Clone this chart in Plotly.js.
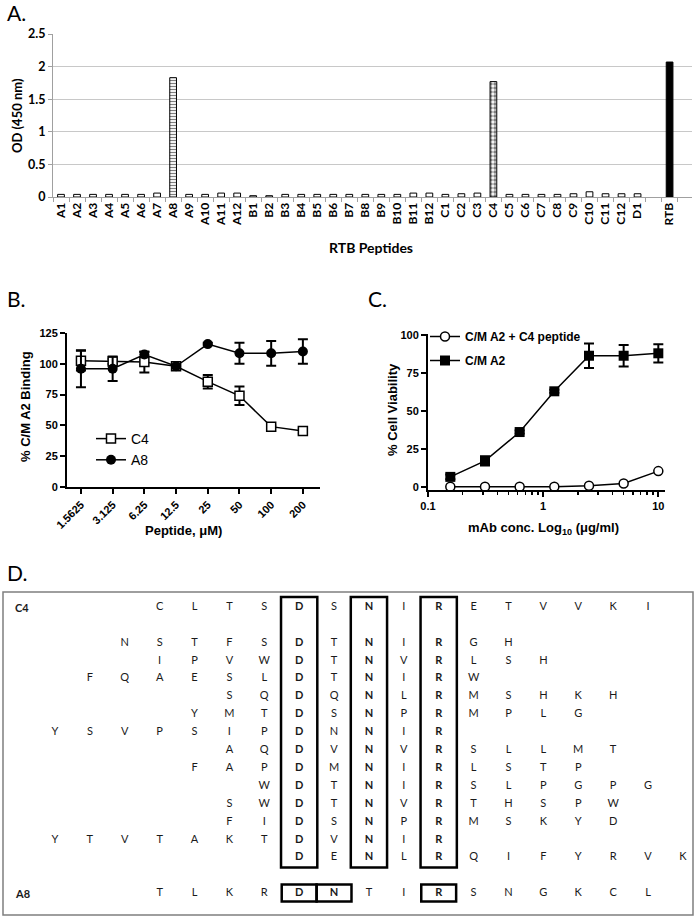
<!DOCTYPE html>
<html><head><meta charset="utf-8">
<script src="https://cdn.plot.ly/plotly-3.0.1.min.js"></script>
<style>html,body{margin:0;padding:0;background:#fff}#chart{width:697px;height:920px}</style>
</head><body><div id="chart"></div>
<script>
// ---------- Panel A data ----------
const peptideLabels = ["A1","A2","A3","A4","A5","A6","A7","A8","A9","A10","A11","A12",
  "B1","B2","B3","B4","B5","B6","B7","B8","B9","B10","B11","B12",
  "C1","C2","C3","C4","C5","C6","C7","C8","C9","C10","C11","C12","D1"," ","RTB"];
const odValues = [0.04,0.04,0.04,0.04,0.04,0.04,0.06,1.83,0.04,0.04,0.06,0.06,
  0.02,0.02,0.04,0.04,0.04,0.04,0.04,0.04,0.04,0.04,0.06,0.06,
  0.04,0.05,0.06,1.77,0.04,0.04,0.04,0.04,0.05,0.08,0.05,0.05,0.05,null,2.07];

// ---------- Panel B data ----------
const peptideConc = ["1.5625","3.125","6.25","12.5","25","50","100","200"];
const c4Binding = [102.5,101.8,101.5,98,85.5,74,49,45.5];
const c4BindingErr = [8,2,8.5,1,5.5,7.5,1,2];
const a8Binding = [96,96,107.5,98,116,108.5,108.5,110];
const a8BindingErr = [15,10,2,1,1,8.5,10,10];

// ---------- Panel C data ----------
const mAbConc = [0.15625,0.3125,0.625,1.25,2.5,5,10];
const viabilityCMA2C4 = [0,0,0,0,0.7,2.2,10.3];
const viabilityCMA2 = [6.5,17,36,62.8,86.2,86.2,87.8];
const viabilityCMA2Err = [1.5,3,1,1,8,7,6];

// ---------- Panel D data ----------
const seqNames = ["C4","","","","","","","","","","","","","","A8"];
const seqRow = [0,2,3,4,5,6,7,8,9,10,11,12,13,14,16];
const seqStart = [3,2,3,1,5,4,0,5,4,6,5,5,0,7,3];
const seqs = ["CLTSDSNIRETVVKI","NSTFSDTNIRGH","IPVWDTNVRLSH","FQAESLDTNIRW","SQDQNLRMSHKH",
  "YMTDSNPRMPLG","YSVPSIPDNNIR","AQDVNVRSLLMT","FAPDMNIRLSTP","WDTNIRSLPGPG",
  "SWDTNVRTHSPW","FIDSNPRMSKYD","YTVTAKTDVNIR","DENLRQIFYRVK","TLKRDNTIRSNGKCL"];
const c4BoxCols = [7,9,11];
const a8BoxCols = [7,8,11];

// ---------- helpers ----------
const W = 697, H = 920;
const px = v => v / W;
const py = v => 1 - v / H;
const calib = "Lato, 'Open Sans', sans-serif";
const arial = "'Liberation Sans', Arial, sans-serif";

const traces = [];
// Panel A: plain bars, then patterned highlight bars overlaid on their own categories
const plainY = peptideLabels.map((l, i) => (l === "A8" || l === "C4") ? null : odValues[i]);
const plainColor = peptideLabels.map(l => l === "RTB" ? "black" : "white");
traces.push({
  type: "bar", x: peptideLabels, y: plainY, xaxis: "x", yaxis: "y", width: 0.42,
  showlegend: false, hoverinfo: "skip",
  marker: { color: plainColor, line: { color: "black", width: 1 } }
});
const stripeY = peptideLabels.map((l, i) => l === "A8" ? odValues[i] : null);
traces.push({
  type: "bar", x: peptideLabels, y: stripeY, xaxis: "x", yaxis: "y", width: 0.42,
  showlegend: false, hoverinfo: "skip",
  marker: { color: "white", line: { color: "black", width: 1 },
    pattern: { shape: "-", fgcolor: "black", bgcolor: "white", size: 3, solidity: 0.4, fillmode: "overlay" } }
});
const checkY = peptideLabels.map((l, i) => l === "C4" ? odValues[i] : null);
traces.push({
  type: "bar", x: peptideLabels, y: checkY, xaxis: "x", yaxis: "y", width: 0.42,
  showlegend: false, hoverinfo: "skip",
  marker: { color: "white", line: { color: "black", width: 1 },
    pattern: { shape: ".", fgcolor: "black", bgcolor: "white", size: 4, solidity: 0.55, fillmode: "overlay" } }
});

// Panel B
traces.push({
  type: "scatter", mode: "lines+markers", name: "C4", x: peptideConc, y: c4Binding,
  xaxis: "x2", yaxis: "y2", legend: "legend", cliponaxis: false,
  line: { color: "black", width: 1.5 },
  marker: { symbol: "square", size: 9, color: "white", line: { color: "black", width: 1.5 } },
  error_y: { type: "data", array: c4BindingErr, visible: true, color: "black", thickness: 2, width: 5 }
});
traces.push({
  type: "scatter", mode: "lines+markers", name: "A8", x: peptideConc, y: a8Binding,
  xaxis: "x2", yaxis: "y2", legend: "legend", cliponaxis: false,
  line: { color: "black", width: 1.5 },
  marker: { symbol: "circle", size: 10, color: "black" },
  error_y: { type: "data", array: a8BindingErr, visible: true, color: "black", thickness: 2, width: 5 }
});

// Panel C
traces.push({
  type: "scatter", mode: "lines+markers", name: "<b>C/M A2 + C4 peptide</b>", x: mAbConc, y: viabilityCMA2C4,
  xaxis: "x3", yaxis: "y3", legend: "legend2", legendgroup: "g1", cliponaxis: false,
  line: { color: "black", width: 1.5 },
  marker: { symbol: "circle", size: 9, color: "white", line: { color: "black", width: 1.5 } }
});
traces.push({
  type: "scatter", mode: "lines+markers", name: "<b>C/M A2</b>", x: mAbConc, y: viabilityCMA2,
  xaxis: "x3", yaxis: "y3", legend: "legend2", legendgroup: "g2", cliponaxis: false,
  line: { color: "black", width: 1.5 },
  marker: { symbol: "square", size: 10, color: "black" },
  error_y: { type: "data", array: viabilityCMA2Err, visible: true, color: "black", thickness: 2, width: 5 }
});

// Panel D letters
const dx = [], dy = [], dt = [];
seqs.forEach((s, i) => {
  const boxed = seqNames[i] === "A8" ? a8BoxCols : c4BoxCols;
  [...s].forEach((ch, j) => {
    const c = seqStart[i] + j;
    dx.push(c); dy.push(seqRow[i]);
    dt.push(boxed.includes(c) ? "<b>" + ch + "</b>" : ch);
  });
});
traces.push({
  type: "scatter", mode: "text", x: dx, y: dy, text: dt, xaxis: "x4", yaxis: "y4",
  showlegend: false, hoverinfo: "skip", cliponaxis: false,
  textfont: { family: calib, size: 11, color: "#1a1a1a" }, textposition: "middle center"
});

// shapes for panel D
const shapes = [];
const firstRow = seqRow[0], lastMid = seqRow[seqRow.length - 2], a8Row = seqRow[seqRow.length - 1];
c4BoxCols.forEach(c => shapes.push({ type: "rect", xref: "x4", yref: "y4",
  x0: c - 0.52, x1: c + 0.52, y0: firstRow - 0.56, y1: lastMid + 0.55, line: { color: "black", width: 2.5 } }));
a8BoxCols.forEach(c => shapes.push({ type: "rect", xref: "x4", yref: "y4",
  x0: c - 0.5, x1: c + 0.5, y0: a8Row - 0.5, y1: a8Row + 0.45, line: { color: "black", width: 2.5 } }));
shapes.push({ type: "rect", xref: "x4 domain", yref: "y4 domain", x0: 0, x1: 1, y0: 0, y1: 1,
  line: { color: "#7f7f7f", width: 1.5 } });

const annotations = [];
const ann = (text, x, y, opts) => annotations.push(Object.assign({ text, x, y, xref: "paper", yref: "paper",
  showarrow: false, xanchor: "center", yanchor: "middle" }, opts));
const panelFont = { family: calib, size: 21, color: "black" };
ann("A.", px(5), py(13), { xanchor: "left", font: panelFont });
ann("B.", px(5), py(298), { xanchor: "left", font: panelFont });
ann("C.", px(366), py(298), { xanchor: "left", font: panelFont });
ann("D.", px(5), py(572), { xanchor: "left", font: panelFont });
ann("<b>OD (450 nm)</b>", px(17), py(116), { textangle: -90, font: { family: calib, size: 13, color: "black" } });
ann("<b>RTB Peptides</b>", px(371), py(247), { font: { family: calib, size: 14, color: "black" } });
ann("<b>% C/M A2 Binding</b>", px(26), py(407), { textangle: -90, font: { family: arial, size: 13, color: "black" } });
ann("<b>Peptide, μM)</b>", px(183), py(530), { font: { family: arial, size: 13, color: "black" } });
ann("<b>% Cell Viability</b>", px(392), py(410), { textangle: -90, font: { family: arial, size: 13, color: "black" } });
ann("<b>mAb conc. Log<sub>10</sub> (μg/ml)</b>", px(543), py(528), { font: { family: arial, size: 13, color: "black" } });
annotations.push({ text: "<b>C4</b>", x: -1.2, y: seqRow[0], xref: "x4", yref: "y4", showarrow: false,
  xanchor: "left", yanchor: "middle", font: { family: calib, size: 11, color: "#1a1a1a" } });
annotations.push({ text: "<b>A8</b>", x: -1.2, y: a8Row, xref: "x4", yref: "y4", showarrow: false,
  xanchor: "left", yanchor: "middle", font: { family: calib, size: 11, color: "#1a1a1a" } });

const prismAxis = { showline: true, linecolor: "black", linewidth: 2, ticks: "outside", ticklen: 5,
  tickwidth: 2, tickcolor: "black", showgrid: false, zeroline: false,
  tickfont: { family: arial, size: 11, color: "black", weight: "bold" } };

const layout = {
  width: W, height: H, margin: { l: 0, r: 0, t: 0, b: 0 }, paper_bgcolor: "white", plot_bgcolor: "rgba(0,0,0,0)",
  hovermode: false, showlegend: true, barmode: "overlay",
  xaxis: { domain: [px(53), px(692)], anchor: "y", type: "category", range: [-0.5, 39.4],
    categoryorder: "array", categoryarray: peptideLabels,
    tickson: "boundaries", ticks: "outside", ticklen: 4, tickcolor: "#a0a0a0", showline: true,
    linecolor: "#a0a0a0", linewidth: 1, tickangle: -90, showgrid: false, zeroline: false,
    tickfont: { family: calib, size: 12, color: "black", weight: "bold" } },
  yaxis: { domain: [py(197), py(34)], anchor: "x", range: [0, 2.5], dtick: 0.5, showgrid: true,
    gridcolor: "#c8c8c8", gridwidth: 1, showline: true, linecolor: "#a0a0a0", ticks: "outside", ticklen: 4,
    tickcolor: "#a0a0a0", zeroline: false,
    tickfont: { family: calib, size: 12.5, color: "black", weight: "bold" } },
  xaxis2: Object.assign({}, prismAxis, { domain: [px(67), px(320)], anchor: "y2", type: "category",
    range: [-0.44, 7.54], tickangle: -45 }),
  yaxis2: Object.assign({}, prismAxis, { domain: [py(487), py(333)], anchor: "x2", range: [0, 125], dtick: 25 }),
  xaxis3: Object.assign({}, prismAxis, { domain: [px(428), px(665)], anchor: "y3", type: "log",
    range: [-1, 1.058], dtick: 1,
    minor: { ticks: "outside", ticklen: 3, tickwidth: 1.5, tickcolor: "black", dtick: "D1", showgrid: false } }),
  yaxis3: Object.assign({}, prismAxis, { domain: [py(489.8), py(334)], anchor: "x3", range: [-2, 100.5],
    tickvals: [0, 25, 50, 75, 100] }),
  xaxis4: { domain: [px(3), px(693)], anchor: "y4", range: [-1.49, 18.29], visible: false, fixedrange: true },
  yaxis4: { domain: [py(915), py(592)], anchor: "x4", range: [17.2, -0.84], visible: false, fixedrange: true },
  legend: { x: px(91), y: py(423), xanchor: "left", yanchor: "top", bgcolor: "rgba(0,0,0,0)",
    font: { family: arial, size: 14, color: "black" }, tracegroupgap: 0 },
  legend2: { x: px(425), y: py(322), xanchor: "left", yanchor: "top", bgcolor: "rgba(0,0,0,0)",
    font: { family: arial, size: 12, color: "black" }, tracegroupgap: 5 },
  shapes, annotations
};

Plotly.newPlot("chart", traces, layout, { staticPlot: true, displayModeBar: false });
</script></body></html>
